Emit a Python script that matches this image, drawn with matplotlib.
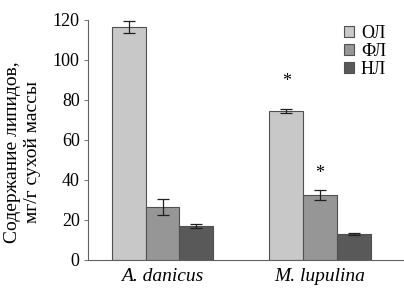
import numpy as np
import matplotlib
matplotlib.use("Agg")
import matplotlib.pyplot as plt

plt.rcParams['font.family'] = ['Liberation Serif', 'DejaVu Serif']

species = ['A. danicus', 'M. lupulina']
lipids = ['ОЛ', 'ФЛ', 'НЛ']
ol = [116.5, 74.5]
fl = [26.5, 32.5]
nl = [17, 13]
ol_err = [3, 1]
fl_err = [4, 2.5]
nl_err = [1, 0.5]
colors = ['#c8c8c8', '#969696', '#595959']
# significance marks: (group, bar index, y)
stars = [(1, 0, 89), (1, 1, 43)]

fig = plt.figure(figsize=(4.04, 2.91), dpi=100)
ax = fig.add_axes([0.218, 0.107, 0.782, 0.825])

x = np.arange(len(species))
w = 0.215
series = [ol, fl, nl]
errs = [ol_err, fl_err, nl_err]
for i, (vals, e) in enumerate(zip(series, errs)):
    ax.bar(x + (i - 1) * w, vals, w, color=colors[i], edgecolor='#505050',
           linewidth=0.8, label=lipids[i],
           yerr=e, error_kw=dict(ecolor='#202020', elinewidth=0.9, capsize=4, capthick=0.9))

for g, b, y in stars:
    ax.text(x[g] + (b - 1) * w, y, '*', ha='center', va='center', fontsize=13)

ax.set_xlim(-0.473, 1.533)
ax.set_ylim(0, 120)
ax.set_yticks(range(0, 121, 20))
ax.set_xticks(x)
ax.set_xticklabels(species, fontstyle='italic', fontsize=14)
ax.tick_params(axis='x', length=0, pad=6)
ax.tick_params(axis='y', labelsize=13, length=3, width=0.6, color='#606060', pad=3)
for s in ['top', 'right']:
    ax.spines[s].set_visible(False)
for s in ['left', 'bottom']:
    ax.spines[s].set_color('#606060')
    ax.spines[s].set_linewidth(0.8)

ax.set_ylabel('Содержание липидов,\nмг/г сухой массы', fontsize=14, linespacing=1.2)
ax.yaxis.set_label_coords(-0.15, 0.45)

leg = ax.legend(loc='upper right', bbox_to_anchor=(0.995, 1.045), frameon=False,
                fontsize=13, handlelength=0.55, handleheight=0.55,
                handletextpad=0.4, labelspacing=0.05)

fig.savefig('out.png', dpi=100)
